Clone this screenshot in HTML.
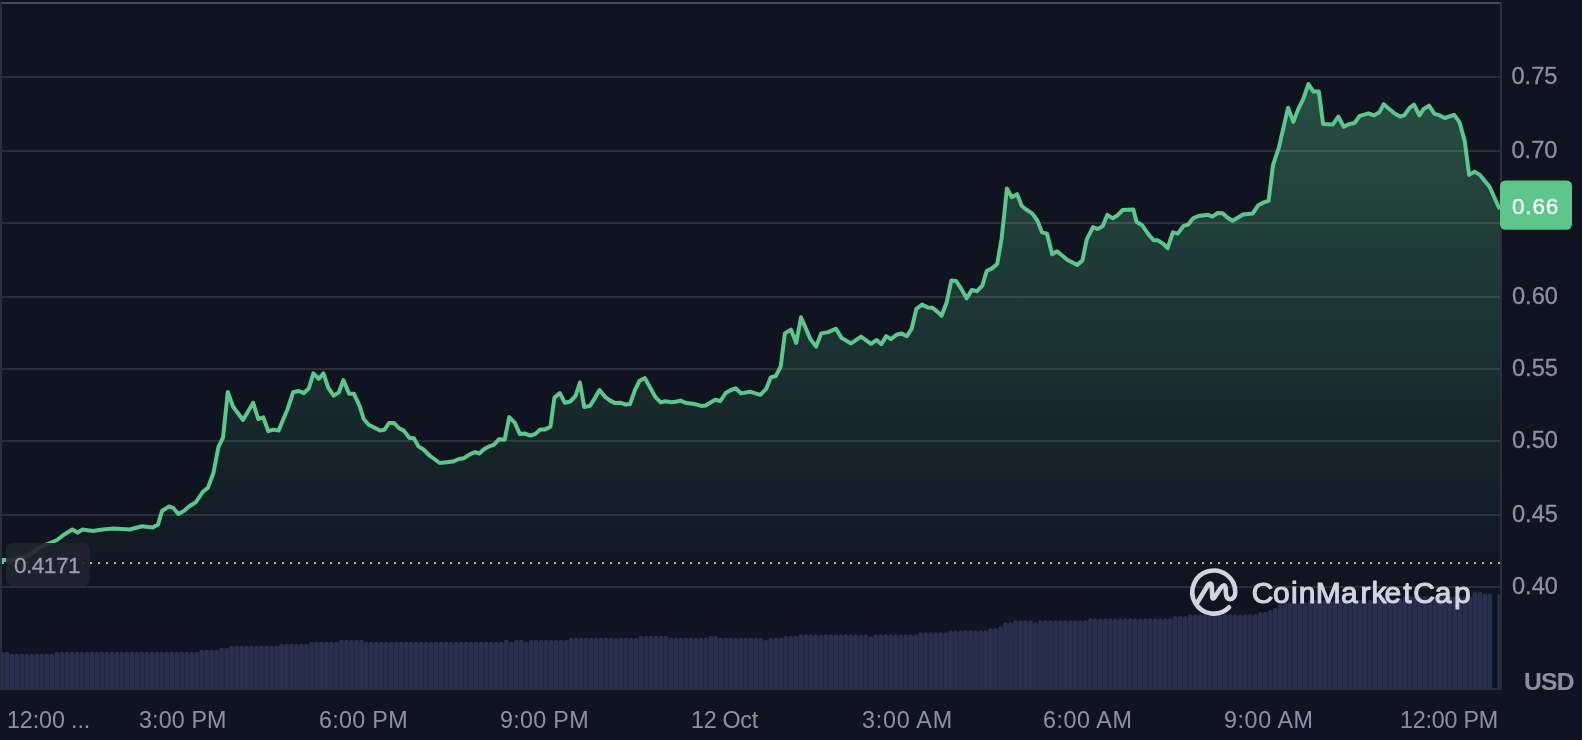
<!DOCTYPE html>
<html><head><meta charset="utf-8"><style>
html,body{margin:0;padding:0;background:#0f1420;width:1582px;height:740px;overflow:hidden}
svg{display:block;will-change:transform}
text{font-family:"Liberation Sans",sans-serif}
</style></head><body>
<svg width="1582" height="740" viewBox="0 0 1582 740">
<defs>
<linearGradient id="fg" gradientUnits="userSpaceOnUse" x1="0" y1="84" x2="0" y2="591">
<stop offset="0" stop-color="#5dc68a" stop-opacity="0.33"/>
<stop offset="1" stop-color="#5dc68a" stop-opacity="0"/>
</linearGradient>
</defs>
<rect width="1582" height="740" fill="#0f1420"/>
<path d="M0 688V654.1a2.1 2.1 0 0 1 4.26 0V688ZM4.56 688V654.1a2.1 2.1 0 0 1 4.69 0V688ZM9.55 688V656.1a2.1 2.1 0 0 1 4.69 0V688ZM14.54 688V656.1a2.1 2.1 0 0 1 4.69 0V688ZM19.54 688V656.1a2.1 2.1 0 0 1 4.69 0V688ZM24.53 688V656.1a2.1 2.1 0 0 1 4.69 0V688ZM29.52 688V656.1a2.1 2.1 0 0 1 4.69 0V688ZM34.52 688V656.1a2.1 2.1 0 0 1 4.69 0V688ZM39.51 688V656.1a2.1 2.1 0 0 1 4.69 0V688ZM44.5 688V656.1a2.1 2.1 0 0 1 4.69 0V688ZM49.49 688V656.1a2.1 2.1 0 0 1 4.69 0V688ZM54.49 688V654.1a2.1 2.1 0 0 1 4.69 0V688ZM59.48 688V654.1a2.1 2.1 0 0 1 4.69 0V688ZM64.47 688V654.1a2.1 2.1 0 0 1 4.69 0V688ZM69.47 688V654.1a2.1 2.1 0 0 1 4.69 0V688ZM74.46 688V654.1a2.1 2.1 0 0 1 4.69 0V688ZM79.45 688V654.1a2.1 2.1 0 0 1 4.69 0V688ZM84.45 688V654.1a2.1 2.1 0 0 1 4.69 0V688ZM89.44 688V654.1a2.1 2.1 0 0 1 4.69 0V688ZM94.43 688V654.1a2.1 2.1 0 0 1 4.69 0V688ZM99.42 688V654.1a2.1 2.1 0 0 1 4.69 0V688ZM104.42 688V654.1a2.1 2.1 0 0 1 4.69 0V688ZM109.41 688V654.1a2.1 2.1 0 0 1 4.69 0V688ZM114.4 688V654.1a2.1 2.1 0 0 1 4.69 0V688ZM119.4 688V654.1a2.1 2.1 0 0 1 4.69 0V688ZM124.39 688V654.1a2.1 2.1 0 0 1 4.69 0V688ZM129.38 688V654.1a2.1 2.1 0 0 1 4.69 0V688ZM134.38 688V654.1a2.1 2.1 0 0 1 4.69 0V688ZM139.37 688V654.1a2.1 2.1 0 0 1 4.69 0V688ZM144.36 688V654.1a2.1 2.1 0 0 1 4.69 0V688ZM149.35 688V654.1a2.1 2.1 0 0 1 4.69 0V688ZM154.35 688V654.1a2.1 2.1 0 0 1 4.69 0V688ZM159.34 688V654.1a2.1 2.1 0 0 1 4.69 0V688ZM164.33 688V654.1a2.1 2.1 0 0 1 4.69 0V688ZM169.33 688V654.1a2.1 2.1 0 0 1 4.69 0V688ZM174.32 688V654.1a2.1 2.1 0 0 1 4.69 0V688ZM179.31 688V654.1a2.1 2.1 0 0 1 4.69 0V688ZM184.31 688V654.1a2.1 2.1 0 0 1 4.69 0V688ZM189.3 688V654.1a2.1 2.1 0 0 1 4.69 0V688ZM194.29 688V654.1a2.1 2.1 0 0 1 4.69 0V688ZM199.28 688V652.1a2.1 2.1 0 0 1 4.69 0V688ZM204.28 688V652.1a2.1 2.1 0 0 1 4.69 0V688ZM209.27 688V652.1a2.1 2.1 0 0 1 4.69 0V688ZM214.26 688V652.1a2.1 2.1 0 0 1 4.69 0V688ZM219.26 688V650.1a2.1 2.1 0 0 1 4.69 0V688ZM224.25 688V650.1a2.1 2.1 0 0 1 4.69 0V688ZM229.24 688V648.1a2.1 2.1 0 0 1 4.69 0V688ZM234.24 688V648.1a2.1 2.1 0 0 1 4.69 0V688ZM239.23 688V648.1a2.1 2.1 0 0 1 4.69 0V688ZM244.22 688V648.1a2.1 2.1 0 0 1 4.69 0V688ZM249.21 688V648.1a2.1 2.1 0 0 1 4.69 0V688ZM254.21 688V648.1a2.1 2.1 0 0 1 4.69 0V688ZM259.2 688V648.1a2.1 2.1 0 0 1 4.69 0V688ZM264.19 688V648.1a2.1 2.1 0 0 1 4.69 0V688ZM269.19 688V648.1a2.1 2.1 0 0 1 4.69 0V688ZM274.18 688V648.1a2.1 2.1 0 0 1 4.69 0V688ZM279.17 688V646.1a2.1 2.1 0 0 1 4.69 0V688ZM284.16 688V646.1a2.1 2.1 0 0 1 4.69 0V688ZM289.16 688V646.1a2.1 2.1 0 0 1 4.69 0V688ZM294.15 688V646.1a2.1 2.1 0 0 1 4.69 0V688ZM299.14 688V646.1a2.1 2.1 0 0 1 4.69 0V688ZM304.14 688V646.1a2.1 2.1 0 0 1 4.69 0V688ZM309.13 688V644.1a2.1 2.1 0 0 1 4.69 0V688ZM314.12 688V644.1a2.1 2.1 0 0 1 4.69 0V688ZM319.12 688V644.1a2.1 2.1 0 0 1 4.69 0V688ZM324.11 688V644.1a2.1 2.1 0 0 1 4.69 0V688ZM329.1 688V644.1a2.1 2.1 0 0 1 4.69 0V688ZM334.09 688V644.1a2.1 2.1 0 0 1 4.69 0V688ZM339.09 688V642.1a2.1 2.1 0 0 1 4.69 0V688ZM344.08 688V642.1a2.1 2.1 0 0 1 4.69 0V688ZM349.07 688V642.1a2.1 2.1 0 0 1 4.69 0V688ZM354.07 688V642.1a2.1 2.1 0 0 1 4.69 0V688ZM359.06 688V642.1a2.1 2.1 0 0 1 4.69 0V688ZM364.05 688V644.1a2.1 2.1 0 0 1 4.69 0V688ZM369.05 688V644.1a2.1 2.1 0 0 1 4.69 0V688ZM374.04 688V644.1a2.1 2.1 0 0 1 4.69 0V688ZM379.03 688V644.1a2.1 2.1 0 0 1 4.69 0V688ZM384.02 688V644.1a2.1 2.1 0 0 1 4.69 0V688ZM389.02 688V644.1a2.1 2.1 0 0 1 4.69 0V688ZM394.01 688V644.1a2.1 2.1 0 0 1 4.69 0V688ZM399 688V644.1a2.1 2.1 0 0 1 4.69 0V688ZM404 688V644.1a2.1 2.1 0 0 1 4.69 0V688ZM408.99 688V644.1a2.1 2.1 0 0 1 4.69 0V688ZM413.98 688V644.1a2.1 2.1 0 0 1 4.69 0V688ZM418.98 688V644.1a2.1 2.1 0 0 1 4.69 0V688ZM423.97 688V644.1a2.1 2.1 0 0 1 4.69 0V688ZM428.96 688V644.1a2.1 2.1 0 0 1 4.69 0V688ZM433.95 688V644.1a2.1 2.1 0 0 1 4.69 0V688ZM438.95 688V644.1a2.1 2.1 0 0 1 4.69 0V688ZM443.94 688V644.1a2.1 2.1 0 0 1 4.69 0V688ZM448.93 688V644.1a2.1 2.1 0 0 1 4.69 0V688ZM453.93 688V644.1a2.1 2.1 0 0 1 4.69 0V688ZM458.92 688V644.1a2.1 2.1 0 0 1 4.69 0V688ZM463.91 688V644.1a2.1 2.1 0 0 1 4.69 0V688ZM468.91 688V644.1a2.1 2.1 0 0 1 4.69 0V688ZM473.9 688V644.1a2.1 2.1 0 0 1 4.69 0V688ZM478.89 688V644.1a2.1 2.1 0 0 1 4.69 0V688ZM483.88 688V644.1a2.1 2.1 0 0 1 4.69 0V688ZM488.88 688V644.1a2.1 2.1 0 0 1 4.69 0V688ZM493.87 688V644.1a2.1 2.1 0 0 1 4.69 0V688ZM498.86 688V644.1a2.1 2.1 0 0 1 4.69 0V688ZM503.86 688V642.1a2.1 2.1 0 0 1 4.69 0V688ZM508.85 688V644.1a2.1 2.1 0 0 1 4.69 0V688ZM513.84 688V642.1a2.1 2.1 0 0 1 4.69 0V688ZM518.84 688V642.1a2.1 2.1 0 0 1 4.69 0V688ZM523.83 688V644.1a2.1 2.1 0 0 1 4.69 0V688ZM528.82 688V642.1a2.1 2.1 0 0 1 4.69 0V688ZM533.82 688V642.1a2.1 2.1 0 0 1 4.69 0V688ZM538.81 688V642.1a2.1 2.1 0 0 1 4.69 0V688ZM543.8 688V642.1a2.1 2.1 0 0 1 4.69 0V688ZM548.79 688V642.1a2.1 2.1 0 0 1 4.69 0V688ZM553.79 688V642.1a2.1 2.1 0 0 1 4.69 0V688ZM558.78 688V642.1a2.1 2.1 0 0 1 4.69 0V688ZM563.77 688V642.1a2.1 2.1 0 0 1 4.69 0V688ZM568.77 688V640.1a2.1 2.1 0 0 1 4.69 0V688ZM573.76 688V640.1a2.1 2.1 0 0 1 4.69 0V688ZM578.75 688V640.1a2.1 2.1 0 0 1 4.69 0V688ZM583.75 688V640.1a2.1 2.1 0 0 1 4.69 0V688ZM588.74 688V640.1a2.1 2.1 0 0 1 4.69 0V688ZM593.73 688V640.1a2.1 2.1 0 0 1 4.69 0V688ZM598.72 688V640.1a2.1 2.1 0 0 1 4.69 0V688ZM603.72 688V640.1a2.1 2.1 0 0 1 4.69 0V688ZM608.71 688V640.1a2.1 2.1 0 0 1 4.69 0V688ZM613.7 688V640.1a2.1 2.1 0 0 1 4.69 0V688ZM618.7 688V640.1a2.1 2.1 0 0 1 4.69 0V688ZM623.69 688V640.1a2.1 2.1 0 0 1 4.69 0V688ZM628.68 688V640.1a2.1 2.1 0 0 1 4.69 0V688ZM633.67 688V640.1a2.1 2.1 0 0 1 4.69 0V688ZM638.67 688V638.1a2.1 2.1 0 0 1 4.69 0V688ZM643.66 688V638.1a2.1 2.1 0 0 1 4.69 0V688ZM648.65 688V638.1a2.1 2.1 0 0 1 4.69 0V688ZM653.65 688V638.1a2.1 2.1 0 0 1 4.69 0V688ZM658.64 688V638.1a2.1 2.1 0 0 1 4.69 0V688ZM663.63 688V638.1a2.1 2.1 0 0 1 4.69 0V688ZM668.63 688V640.1a2.1 2.1 0 0 1 4.69 0V688ZM673.62 688V640.1a2.1 2.1 0 0 1 4.69 0V688ZM678.61 688V640.1a2.1 2.1 0 0 1 4.69 0V688ZM683.61 688V640.1a2.1 2.1 0 0 1 4.69 0V688ZM688.6 688V640.1a2.1 2.1 0 0 1 4.69 0V688ZM693.59 688V640.1a2.1 2.1 0 0 1 4.69 0V688ZM698.58 688V640.1a2.1 2.1 0 0 1 4.69 0V688ZM703.58 688V640.1a2.1 2.1 0 0 1 4.69 0V688ZM708.57 688V638.1a2.1 2.1 0 0 1 4.69 0V688ZM713.56 688V638.1a2.1 2.1 0 0 1 4.69 0V688ZM718.56 688V640.1a2.1 2.1 0 0 1 4.69 0V688ZM723.55 688V640.1a2.1 2.1 0 0 1 4.69 0V688ZM728.54 688V640.1a2.1 2.1 0 0 1 4.69 0V688ZM733.53 688V640.1a2.1 2.1 0 0 1 4.69 0V688ZM738.53 688V640.1a2.1 2.1 0 0 1 4.69 0V688ZM743.52 688V640.1a2.1 2.1 0 0 1 4.69 0V688ZM748.51 688V640.1a2.1 2.1 0 0 1 4.69 0V688ZM753.51 688V640.1a2.1 2.1 0 0 1 4.69 0V688ZM758.5 688V640.1a2.1 2.1 0 0 1 4.69 0V688ZM763.49 688V642.1a2.1 2.1 0 0 1 4.69 0V688ZM768.49 688V640.1a2.1 2.1 0 0 1 4.69 0V688ZM773.48 688V640.1a2.1 2.1 0 0 1 4.69 0V688ZM778.47 688V640.1a2.1 2.1 0 0 1 4.69 0V688ZM783.47 688V638.1a2.1 2.1 0 0 1 4.69 0V688ZM788.46 688V638.1a2.1 2.1 0 0 1 4.69 0V688ZM793.45 688V638.1a2.1 2.1 0 0 1 4.69 0V688ZM798.44 688V636.6a2.1 2.1 0 0 1 4.69 0V688ZM803.44 688V636.6a2.1 2.1 0 0 1 4.69 0V688ZM808.43 688V636.6a2.1 2.1 0 0 1 4.69 0V688ZM813.42 688V636.6a2.1 2.1 0 0 1 4.69 0V688ZM818.42 688V636.6a2.1 2.1 0 0 1 4.69 0V688ZM823.41 688V636.6a2.1 2.1 0 0 1 4.69 0V688ZM828.4 688V636.6a2.1 2.1 0 0 1 4.69 0V688ZM833.39 688V636.6a2.1 2.1 0 0 1 4.69 0V688ZM838.39 688V636.6a2.1 2.1 0 0 1 4.69 0V688ZM843.38 688V636.6a2.1 2.1 0 0 1 4.69 0V688ZM848.37 688V636.6a2.1 2.1 0 0 1 4.69 0V688ZM853.37 688V636.6a2.1 2.1 0 0 1 4.69 0V688ZM858.36 688V636.6a2.1 2.1 0 0 1 4.69 0V688ZM863.35 688V636.6a2.1 2.1 0 0 1 4.69 0V688ZM868.35 688V638.6a2.1 2.1 0 0 1 4.69 0V688ZM873.34 688V636.6a2.1 2.1 0 0 1 4.69 0V688ZM878.33 688V636.6a2.1 2.1 0 0 1 4.69 0V688ZM883.33 688V636.6a2.1 2.1 0 0 1 4.69 0V688ZM888.32 688V636.6a2.1 2.1 0 0 1 4.69 0V688ZM893.31 688V636.6a2.1 2.1 0 0 1 4.69 0V688ZM898.3 688V636.6a2.1 2.1 0 0 1 4.69 0V688ZM903.3 688V636.6a2.1 2.1 0 0 1 4.69 0V688ZM908.29 688V636.6a2.1 2.1 0 0 1 4.69 0V688ZM913.28 688V636.6a2.1 2.1 0 0 1 4.69 0V688ZM918.28 688V634.5a2.1 2.1 0 0 1 4.69 0V688ZM923.27 688V634.5a2.1 2.1 0 0 1 4.69 0V688ZM928.26 688V634.5a2.1 2.1 0 0 1 4.69 0V688ZM933.25 688V634.5a2.1 2.1 0 0 1 4.69 0V688ZM938.25 688V634.5a2.1 2.1 0 0 1 4.69 0V688ZM943.24 688V634.5a2.1 2.1 0 0 1 4.69 0V688ZM948.23 688V632.6a2.1 2.1 0 0 1 4.69 0V688ZM953.23 688V632.6a2.1 2.1 0 0 1 4.69 0V688ZM958.22 688V632.6a2.1 2.1 0 0 1 4.69 0V688ZM963.21 688V632.6a2.1 2.1 0 0 1 4.69 0V688ZM968.21 688V632.6a2.1 2.1 0 0 1 4.69 0V688ZM973.2 688V632.6a2.1 2.1 0 0 1 4.69 0V688ZM978.19 688V632.6a2.1 2.1 0 0 1 4.69 0V688ZM983.19 688V632.6a2.1 2.1 0 0 1 4.69 0V688ZM988.18 688V630.6a2.1 2.1 0 0 1 4.69 0V688ZM993.17 688V630.6a2.1 2.1 0 0 1 4.69 0V688ZM998.16 688V628.6a2.1 2.1 0 0 1 4.69 0V688ZM1003.16 688V624.7a2.1 2.1 0 0 1 4.69 0V688ZM1008.15 688V624.7a2.1 2.1 0 0 1 4.69 0V688ZM1013.14 688V622.6a2.1 2.1 0 0 1 4.69 0V688ZM1018.14 688V622.6a2.1 2.1 0 0 1 4.69 0V688ZM1023.13 688V622.6a2.1 2.1 0 0 1 4.69 0V688ZM1028.12 688V622.6a2.1 2.1 0 0 1 4.69 0V688ZM1033.12 688V624.7a2.1 2.1 0 0 1 4.69 0V688ZM1038.11 688V622.6a2.1 2.1 0 0 1 4.69 0V688ZM1043.1 688V622.6a2.1 2.1 0 0 1 4.69 0V688ZM1048.09 688V622.6a2.1 2.1 0 0 1 4.69 0V688ZM1053.09 688V622.6a2.1 2.1 0 0 1 4.69 0V688ZM1058.08 688V622.6a2.1 2.1 0 0 1 4.69 0V688ZM1063.07 688V622.6a2.1 2.1 0 0 1 4.69 0V688ZM1068.07 688V622.6a2.1 2.1 0 0 1 4.69 0V688ZM1073.06 688V622.6a2.1 2.1 0 0 1 4.69 0V688ZM1078.05 688V622.6a2.1 2.1 0 0 1 4.69 0V688ZM1083.05 688V622.6a2.1 2.1 0 0 1 4.69 0V688ZM1088.04 688V620.6a2.1 2.1 0 0 1 4.69 0V688ZM1093.03 688V620.6a2.1 2.1 0 0 1 4.69 0V688ZM1098.02 688V620.6a2.1 2.1 0 0 1 4.69 0V688ZM1103.02 688V620.6a2.1 2.1 0 0 1 4.69 0V688ZM1108.01 688V620.6a2.1 2.1 0 0 1 4.69 0V688ZM1113 688V620.6a2.1 2.1 0 0 1 4.69 0V688ZM1118 688V620.6a2.1 2.1 0 0 1 4.69 0V688ZM1122.99 688V620.6a2.1 2.1 0 0 1 4.69 0V688ZM1127.98 688V620.6a2.1 2.1 0 0 1 4.69 0V688ZM1132.98 688V620.6a2.1 2.1 0 0 1 4.69 0V688ZM1137.97 688V620.6a2.1 2.1 0 0 1 4.69 0V688ZM1142.96 688V620.6a2.1 2.1 0 0 1 4.69 0V688ZM1147.95 688V620.6a2.1 2.1 0 0 1 4.69 0V688ZM1152.95 688V620.6a2.1 2.1 0 0 1 4.69 0V688ZM1157.94 688V620.6a2.1 2.1 0 0 1 4.69 0V688ZM1162.93 688V620.6a2.1 2.1 0 0 1 4.69 0V688ZM1167.93 688V620.6a2.1 2.1 0 0 1 4.69 0V688ZM1172.92 688V618.4a2.1 2.1 0 0 1 4.69 0V688ZM1177.91 688V618.4a2.1 2.1 0 0 1 4.69 0V688ZM1182.91 688V618.4a2.1 2.1 0 0 1 4.69 0V688ZM1187.9 688V616.6a2.1 2.1 0 0 1 4.69 0V688ZM1192.89 688V616.6a2.1 2.1 0 0 1 4.69 0V688ZM1197.88 688V616.6a2.1 2.1 0 0 1 4.69 0V688ZM1202.88 688V616.6a2.1 2.1 0 0 1 4.69 0V688ZM1207.87 688V616.6a2.1 2.1 0 0 1 4.69 0V688ZM1212.86 688V616.6a2.1 2.1 0 0 1 4.69 0V688ZM1217.86 688V616.6a2.1 2.1 0 0 1 4.69 0V688ZM1222.85 688V616.6a2.1 2.1 0 0 1 4.69 0V688ZM1227.84 688V616.6a2.1 2.1 0 0 1 4.69 0V688ZM1232.84 688V616.6a2.1 2.1 0 0 1 4.69 0V688ZM1237.83 688V616.6a2.1 2.1 0 0 1 4.69 0V688ZM1242.82 688V616.6a2.1 2.1 0 0 1 4.69 0V688ZM1247.81 688V616.6a2.1 2.1 0 0 1 4.69 0V688ZM1252.81 688V616.6a2.1 2.1 0 0 1 4.69 0V688ZM1257.8 688V614.3a2.1 2.1 0 0 1 4.69 0V688ZM1262.79 688V614.3a2.1 2.1 0 0 1 4.69 0V688ZM1267.79 688V612.4a2.1 2.1 0 0 1 4.69 0V688ZM1272.78 688V610.3a2.1 2.1 0 0 1 4.69 0V688ZM1277.77 688V606.4a2.1 2.1 0 0 1 4.69 0V688ZM1282.77 688V604.5a2.1 2.1 0 0 1 4.69 0V688ZM1287.76 688V604.5a2.1 2.1 0 0 1 4.69 0V688ZM1292.75 688V604.5a2.1 2.1 0 0 1 4.69 0V688ZM1297.74 688V604.5a2.1 2.1 0 0 1 4.69 0V688ZM1302.74 688V604.5a2.1 2.1 0 0 1 4.69 0V688ZM1307.73 688V602.4a2.1 2.1 0 0 1 4.69 0V688ZM1312.72 688V602.4a2.1 2.1 0 0 1 4.69 0V688ZM1317.72 688V602.4a2.1 2.1 0 0 1 4.69 0V688ZM1322.71 688V602.4a2.1 2.1 0 0 1 4.69 0V688ZM1327.7 688V602.4a2.1 2.1 0 0 1 4.69 0V688ZM1332.7 688V602.4a2.1 2.1 0 0 1 4.69 0V688ZM1337.69 688V602.4a2.1 2.1 0 0 1 4.69 0V688ZM1342.68 688V602.4a2.1 2.1 0 0 1 4.69 0V688ZM1347.67 688V602.4a2.1 2.1 0 0 1 4.69 0V688ZM1352.67 688V602.4a2.1 2.1 0 0 1 4.69 0V688ZM1357.66 688V602.4a2.1 2.1 0 0 1 4.69 0V688ZM1362.65 688V602.4a2.1 2.1 0 0 1 4.69 0V688ZM1367.65 688V602.4a2.1 2.1 0 0 1 4.69 0V688ZM1372.64 688V600.5a2.1 2.1 0 0 1 4.69 0V688ZM1377.63 688V600.5a2.1 2.1 0 0 1 4.69 0V688ZM1382.63 688V600.5a2.1 2.1 0 0 1 4.69 0V688ZM1387.62 688V600.5a2.1 2.1 0 0 1 4.69 0V688ZM1392.61 688V600.5a2.1 2.1 0 0 1 4.69 0V688ZM1397.6 688V600.5a2.1 2.1 0 0 1 4.69 0V688ZM1402.6 688V598.5a2.1 2.1 0 0 1 4.69 0V688ZM1407.59 688V598.5a2.1 2.1 0 0 1 4.69 0V688ZM1412.58 688V598.5a2.1 2.1 0 0 1 4.69 0V688ZM1417.58 688V598.5a2.1 2.1 0 0 1 4.69 0V688ZM1422.57 688V598.5a2.1 2.1 0 0 1 4.69 0V688ZM1427.56 688V598.5a2.1 2.1 0 0 1 4.69 0V688ZM1432.56 688V598.5a2.1 2.1 0 0 1 4.69 0V688ZM1437.55 688V598.5a2.1 2.1 0 0 1 4.69 0V688ZM1442.54 688V598.5a2.1 2.1 0 0 1 4.69 0V688ZM1447.53 688V598.5a2.1 2.1 0 0 1 4.69 0V688ZM1452.53 688V598.5a2.1 2.1 0 0 1 4.69 0V688ZM1457.52 688V598.5a2.1 2.1 0 0 1 4.69 0V688ZM1462.51 688V598.5a2.1 2.1 0 0 1 4.69 0V688ZM1467.51 688V598.5a2.1 2.1 0 0 1 4.69 0V688ZM1472.5 688V594.1a2.1 2.1 0 0 1 4.69 0V688ZM1477.49 688V594.1a2.1 2.1 0 0 1 4.69 0V688ZM1482.49 688V596.1a2.1 2.1 0 0 1 4.69 0V688ZM1487.48 688V596.1a2.1 2.1 0 0 1 4.69 0V688ZM1497.46 688V595.27a1.27 1.27 0 0 1 2.54 0V688Z" fill="#2a3353" fill-opacity="0.93"/>
<path d="M2 560 L12 560 L27 556.5 L40.5 547 L57 540 L63.5 535 L72.4 529.5 L77.8 532.7 L82.4 529.5 L93 531 L102.7 529.5 L113.5 528.6 L129.7 529.5 L141.9 526.2 L152.7 527.6 L158 524.6 L162 511 L169 506.5 L173 507.8 L178.4 514 L183.8 511 L189 506.5 L196 502 L202.7 492 L208 487.6 L213.5 472.7 L218.4 447 L223 437.6 L227.8 392 L233 406.5 L243 420 L253.2 402.8 L258.2 419 L263.3 417.4 L268.4 431.2 L273.4 429.6 L278.5 430.6 L287.6 409 L293.1 392.3 L298.8 391 L303.9 393.1 L308.9 388.2 L313.4 373.4 L318.7 378.9 L323.5 373.4 L328.2 387.6 L333.7 395.7 L338.9 392.3 L343.4 380.1 L349.1 393.7 L353.9 393.7 L359.6 405.9 L363.7 419 L368.7 424.7 L379.9 430.6 L384.3 429.8 L389 423.1 L394.1 423.1 L399.1 428.2 L403.8 430.6 L409.3 437.7 L413.9 438.3 L418.4 446.4 L423.5 449.5 L429.5 455.5 L439.7 463 L452.9 461.6 L458.9 459 L464 458.2 L470.1 454.1 L475.2 452.1 L479.2 453.5 L484.3 449.1 L489.4 446.3 L493.8 444.9 L499.1 439.2 L504.7 439.6 L509.2 417.1 L514.9 422.9 L519.8 434 L524.5 433.5 L530.3 435.6 L535.1 434 L540.3 429.4 L544.7 429.6 L550.4 426.8 L554.4 397.8 L559.7 393 L564.9 402.7 L570.2 401.5 L575.5 396 L579.9 382.5 L584.3 407.1 L589.9 405.9 L594.8 398.3 L599.5 390.1 L604.8 396.6 L609.7 400.4 L615 403.1 L620.3 402.7 L625.5 404.5 L630 404.1 L635.2 389.5 L639.6 380.7 L644.9 378.1 L649.3 386 L655.4 397.1 L660.7 402.4 L665.1 401.3 L671.2 402.2 L675.6 401.8 L680.4 400.6 L686.2 403.1 L695 404.1 L701.1 405.9 L705.5 405.5 L715.2 399.7 L720.4 401 L725.7 393 L731 390 L735.7 388.3 L741 393.4 L749.9 391.7 L760.3 394.9 L766 389.2 L770.7 377.5 L775.8 376 L780.7 366.5 L784.9 333.4 L790.9 329.6 L796.2 342.9 L801 317.3 L810.4 339.1 L816.1 346.6 L821.2 333.4 L828.4 332.1 L836 328.7 L841.7 338.1 L851.1 343.4 L861 336.6 L871 343.8 L876.7 340 L881.4 344.2 L886.1 336.2 L890.9 339.1 L896.5 334.7 L901.3 333.4 L906.9 336.2 L911.7 328.7 L916.4 308.8 L922.1 304.6 L927.8 307.5 L932.5 307.8 L937.2 311.6 L941.6 315.8 L946.7 302.2 L951.4 280.4 L956.2 281 L961.3 288.9 L966.6 298.4 L971.9 289.9 L977 291.2 L982.3 285.6 L986.7 271 L992 268.4 L997.2 264 L1001.6 238.5 L1004.3 213.9 L1006.9 188.4 L1011.8 197.2 L1017.1 194.2 L1021.8 206 L1026.2 209.5 L1032.4 213.6 L1037.6 221 L1042 232.4 L1047 233.6 L1052.2 254.3 L1057 251.2 L1067.5 260 L1077.2 264.9 L1082.4 260.5 L1086.8 239.4 L1093 227.1 L1097.4 228.9 L1102.6 226.2 L1107.4 214.8 L1112.7 218.3 L1117.6 215.3 L1122.5 210.1 L1133.4 209.5 L1136.5 221.8 L1142.2 225.3 L1148.3 234.1 L1153.6 240.3 L1158 240.3 L1163.3 243.8 L1167.6 248.2 L1172.9 232.4 L1177.7 233.6 L1183.5 225.9 L1188.2 224.5 L1193.1 218.3 L1198.4 216 L1208 214.8 L1212.4 216.6 L1217.7 213 L1222.6 213.2 L1228 218.1 L1232.7 220.7 L1243.1 214.5 L1252.8 213.4 L1258.3 205.2 L1263.7 202.4 L1268.6 200.8 L1273 165.2 L1278.8 147.9 L1288.1 107.8 L1293.3 121.9 L1298.3 108.9 L1303.2 99.2 L1308.4 84.1 L1313.4 91.6 L1318.8 91.6 L1323.1 124.1 L1332.9 124.5 L1338.3 116.5 L1343.7 126.7 L1349.1 124.1 L1354.5 123 L1359.9 115.8 L1368.5 113.3 L1374 115.4 L1379.4 112.2 L1383.7 104.2 L1393.4 112.6 L1399.9 116.5 L1404.2 115.4 L1409.6 107.8 L1414 104.6 L1419.4 115.4 L1423.7 108.9 L1429.1 105.7 L1434.5 113.9 L1439.9 115.4 L1444.7 118 L1454 114.8 L1459.4 121.9 L1464.8 141.4 L1469.1 174.9 L1474.5 171.6 L1479.9 174.9 L1484.2 180.3 L1489.6 186.8 L1498.3 206.2 L1500 209 L1500 688 L2 688 Z" fill="url(#fg)"/>
<rect x="2" y="76" width="1498" height="2" fill="rgba(255,255,255,0.11)"/><rect x="2" y="150" width="1498" height="2" fill="rgba(255,255,255,0.11)"/><rect x="2" y="222" width="1498" height="2" fill="rgba(255,255,255,0.11)"/><rect x="2" y="296" width="1498" height="2" fill="rgba(255,255,255,0.11)"/><rect x="2" y="368" width="1498" height="2" fill="rgba(255,255,255,0.11)"/><rect x="2" y="440" width="1498" height="2" fill="rgba(255,255,255,0.11)"/><rect x="2" y="514" width="1498" height="2" fill="rgba(255,255,255,0.11)"/><rect x="2" y="586" width="1498" height="2" fill="rgba(255,255,255,0.11)"/>
<rect x="2" y="2" width="1498" height="2" fill="#474b55"/>
<rect x="0" y="2" width="2" height="688" fill="#2a2e39"/>
<rect x="1500" y="2" width="2" height="688" fill="#2a2e39"/>
<rect x="0" y="688" width="1502" height="2" fill="#272b36"/>
<rect x="2" y="562" width="2" height="2" fill="#b3b1ad"/><rect x="10" y="562" width="2" height="2" fill="#b3b1ad"/><rect x="18" y="562" width="2" height="2" fill="#b3b1ad"/><rect x="26" y="562" width="2" height="2" fill="#b3b1ad"/><rect x="34" y="562" width="2" height="2" fill="#b3b1ad"/><rect x="42" y="562" width="2" height="2" fill="#b3b1ad"/><rect x="50" y="562" width="2" height="2" fill="#b3b1ad"/><rect x="58" y="562" width="2" height="2" fill="#b3b1ad"/><rect x="66" y="562" width="2" height="2" fill="#b3b1ad"/><rect x="74" y="562" width="2" height="2" fill="#b3b1ad"/><rect x="82" y="562" width="2" height="2" fill="#b3b1ad"/><rect x="90" y="562" width="2" height="2" fill="#b3b1ad"/><rect x="98" y="562" width="2" height="2" fill="#b3b1ad"/><rect x="106" y="562" width="2" height="2" fill="#b3b1ad"/><rect x="114" y="562" width="2" height="2" fill="#b3b1ad"/><rect x="122" y="562" width="2" height="2" fill="#b3b1ad"/><rect x="130" y="562" width="2" height="2" fill="#b3b1ad"/><rect x="138" y="562" width="2" height="2" fill="#b3b1ad"/><rect x="146" y="562" width="2" height="2" fill="#b3b1ad"/><rect x="154" y="562" width="2" height="2" fill="#b3b1ad"/><rect x="162" y="562" width="2" height="2" fill="#b3b1ad"/><rect x="170" y="562" width="2" height="2" fill="#b3b1ad"/><rect x="178" y="562" width="2" height="2" fill="#b3b1ad"/><rect x="186" y="562" width="2" height="2" fill="#b3b1ad"/><rect x="194" y="562" width="2" height="2" fill="#b3b1ad"/><rect x="202" y="562" width="2" height="2" fill="#b3b1ad"/><rect x="210" y="562" width="2" height="2" fill="#b3b1ad"/><rect x="218" y="562" width="2" height="2" fill="#b3b1ad"/><rect x="226" y="562" width="2" height="2" fill="#b3b1ad"/><rect x="234" y="562" width="2" height="2" fill="#b3b1ad"/><rect x="242" y="562" width="2" height="2" fill="#b3b1ad"/><rect x="250" y="562" width="2" height="2" fill="#b3b1ad"/><rect x="258" y="562" width="2" height="2" fill="#b3b1ad"/><rect x="266" y="562" width="2" height="2" fill="#b3b1ad"/><rect x="274" y="562" width="2" height="2" fill="#b3b1ad"/><rect x="282" y="562" width="2" height="2" fill="#b3b1ad"/><rect x="290" y="562" width="2" height="2" fill="#b3b1ad"/><rect x="298" y="562" width="2" height="2" fill="#b3b1ad"/><rect x="306" y="562" width="2" height="2" fill="#b3b1ad"/><rect x="314" y="562" width="2" height="2" fill="#b3b1ad"/><rect x="322" y="562" width="2" height="2" fill="#b3b1ad"/><rect x="330" y="562" width="2" height="2" fill="#b3b1ad"/><rect x="338" y="562" width="2" height="2" fill="#b3b1ad"/><rect x="346" y="562" width="2" height="2" fill="#b3b1ad"/><rect x="354" y="562" width="2" height="2" fill="#b3b1ad"/><rect x="362" y="562" width="2" height="2" fill="#b3b1ad"/><rect x="370" y="562" width="2" height="2" fill="#b3b1ad"/><rect x="378" y="562" width="2" height="2" fill="#b3b1ad"/><rect x="386" y="562" width="2" height="2" fill="#b3b1ad"/><rect x="394" y="562" width="2" height="2" fill="#b3b1ad"/><rect x="402" y="562" width="2" height="2" fill="#b3b1ad"/><rect x="410" y="562" width="2" height="2" fill="#b3b1ad"/><rect x="418" y="562" width="2" height="2" fill="#b3b1ad"/><rect x="426" y="562" width="2" height="2" fill="#b3b1ad"/><rect x="434" y="562" width="2" height="2" fill="#b3b1ad"/><rect x="442" y="562" width="2" height="2" fill="#b3b1ad"/><rect x="450" y="562" width="2" height="2" fill="#b3b1ad"/><rect x="458" y="562" width="2" height="2" fill="#b3b1ad"/><rect x="466" y="562" width="2" height="2" fill="#b3b1ad"/><rect x="474" y="562" width="2" height="2" fill="#b3b1ad"/><rect x="482" y="562" width="2" height="2" fill="#b3b1ad"/><rect x="490" y="562" width="2" height="2" fill="#b3b1ad"/><rect x="498" y="562" width="2" height="2" fill="#b3b1ad"/><rect x="506" y="562" width="2" height="2" fill="#b3b1ad"/><rect x="514" y="562" width="2" height="2" fill="#b3b1ad"/><rect x="522" y="562" width="2" height="2" fill="#b3b1ad"/><rect x="530" y="562" width="2" height="2" fill="#b3b1ad"/><rect x="538" y="562" width="2" height="2" fill="#b3b1ad"/><rect x="546" y="562" width="2" height="2" fill="#b3b1ad"/><rect x="554" y="562" width="2" height="2" fill="#b3b1ad"/><rect x="562" y="562" width="2" height="2" fill="#b3b1ad"/><rect x="570" y="562" width="2" height="2" fill="#b3b1ad"/><rect x="578" y="562" width="2" height="2" fill="#b3b1ad"/><rect x="586" y="562" width="2" height="2" fill="#b3b1ad"/><rect x="594" y="562" width="2" height="2" fill="#b3b1ad"/><rect x="602" y="562" width="2" height="2" fill="#b3b1ad"/><rect x="610" y="562" width="2" height="2" fill="#b3b1ad"/><rect x="618" y="562" width="2" height="2" fill="#b3b1ad"/><rect x="626" y="562" width="2" height="2" fill="#b3b1ad"/><rect x="634" y="562" width="2" height="2" fill="#b3b1ad"/><rect x="642" y="562" width="2" height="2" fill="#b3b1ad"/><rect x="650" y="562" width="2" height="2" fill="#b3b1ad"/><rect x="658" y="562" width="2" height="2" fill="#b3b1ad"/><rect x="666" y="562" width="2" height="2" fill="#b3b1ad"/><rect x="674" y="562" width="2" height="2" fill="#b3b1ad"/><rect x="682" y="562" width="2" height="2" fill="#b3b1ad"/><rect x="690" y="562" width="2" height="2" fill="#b3b1ad"/><rect x="698" y="562" width="2" height="2" fill="#b3b1ad"/><rect x="706" y="562" width="2" height="2" fill="#b3b1ad"/><rect x="714" y="562" width="2" height="2" fill="#b3b1ad"/><rect x="722" y="562" width="2" height="2" fill="#b3b1ad"/><rect x="730" y="562" width="2" height="2" fill="#b3b1ad"/><rect x="738" y="562" width="2" height="2" fill="#b3b1ad"/><rect x="746" y="562" width="2" height="2" fill="#b3b1ad"/><rect x="754" y="562" width="2" height="2" fill="#b3b1ad"/><rect x="762" y="562" width="2" height="2" fill="#b3b1ad"/><rect x="770" y="562" width="2" height="2" fill="#b3b1ad"/><rect x="778" y="562" width="2" height="2" fill="#b3b1ad"/><rect x="786" y="562" width="2" height="2" fill="#b3b1ad"/><rect x="794" y="562" width="2" height="2" fill="#b3b1ad"/><rect x="802" y="562" width="2" height="2" fill="#b3b1ad"/><rect x="810" y="562" width="2" height="2" fill="#b3b1ad"/><rect x="818" y="562" width="2" height="2" fill="#b3b1ad"/><rect x="826" y="562" width="2" height="2" fill="#b3b1ad"/><rect x="834" y="562" width="2" height="2" fill="#b3b1ad"/><rect x="842" y="562" width="2" height="2" fill="#b3b1ad"/><rect x="850" y="562" width="2" height="2" fill="#b3b1ad"/><rect x="858" y="562" width="2" height="2" fill="#b3b1ad"/><rect x="866" y="562" width="2" height="2" fill="#b3b1ad"/><rect x="874" y="562" width="2" height="2" fill="#b3b1ad"/><rect x="882" y="562" width="2" height="2" fill="#b3b1ad"/><rect x="890" y="562" width="2" height="2" fill="#b3b1ad"/><rect x="898" y="562" width="2" height="2" fill="#b3b1ad"/><rect x="906" y="562" width="2" height="2" fill="#b3b1ad"/><rect x="914" y="562" width="2" height="2" fill="#b3b1ad"/><rect x="922" y="562" width="2" height="2" fill="#b3b1ad"/><rect x="930" y="562" width="2" height="2" fill="#b3b1ad"/><rect x="938" y="562" width="2" height="2" fill="#b3b1ad"/><rect x="946" y="562" width="2" height="2" fill="#b3b1ad"/><rect x="954" y="562" width="2" height="2" fill="#b3b1ad"/><rect x="962" y="562" width="2" height="2" fill="#b3b1ad"/><rect x="970" y="562" width="2" height="2" fill="#b3b1ad"/><rect x="978" y="562" width="2" height="2" fill="#b3b1ad"/><rect x="986" y="562" width="2" height="2" fill="#b3b1ad"/><rect x="994" y="562" width="2" height="2" fill="#b3b1ad"/><rect x="1002" y="562" width="2" height="2" fill="#b3b1ad"/><rect x="1010" y="562" width="2" height="2" fill="#b3b1ad"/><rect x="1018" y="562" width="2" height="2" fill="#b3b1ad"/><rect x="1026" y="562" width="2" height="2" fill="#b3b1ad"/><rect x="1034" y="562" width="2" height="2" fill="#b3b1ad"/><rect x="1042" y="562" width="2" height="2" fill="#b3b1ad"/><rect x="1050" y="562" width="2" height="2" fill="#b3b1ad"/><rect x="1058" y="562" width="2" height="2" fill="#b3b1ad"/><rect x="1066" y="562" width="2" height="2" fill="#b3b1ad"/><rect x="1074" y="562" width="2" height="2" fill="#b3b1ad"/><rect x="1082" y="562" width="2" height="2" fill="#b3b1ad"/><rect x="1090" y="562" width="2" height="2" fill="#b3b1ad"/><rect x="1098" y="562" width="2" height="2" fill="#b3b1ad"/><rect x="1106" y="562" width="2" height="2" fill="#b3b1ad"/><rect x="1114" y="562" width="2" height="2" fill="#b3b1ad"/><rect x="1122" y="562" width="2" height="2" fill="#b3b1ad"/><rect x="1130" y="562" width="2" height="2" fill="#b3b1ad"/><rect x="1138" y="562" width="2" height="2" fill="#b3b1ad"/><rect x="1146" y="562" width="2" height="2" fill="#b3b1ad"/><rect x="1154" y="562" width="2" height="2" fill="#b3b1ad"/><rect x="1162" y="562" width="2" height="2" fill="#b3b1ad"/><rect x="1170" y="562" width="2" height="2" fill="#b3b1ad"/><rect x="1178" y="562" width="2" height="2" fill="#b3b1ad"/><rect x="1186" y="562" width="2" height="2" fill="#b3b1ad"/><rect x="1194" y="562" width="2" height="2" fill="#b3b1ad"/><rect x="1202" y="562" width="2" height="2" fill="#b3b1ad"/><rect x="1210" y="562" width="2" height="2" fill="#b3b1ad"/><rect x="1218" y="562" width="2" height="2" fill="#b3b1ad"/><rect x="1226" y="562" width="2" height="2" fill="#b3b1ad"/><rect x="1234" y="562" width="2" height="2" fill="#b3b1ad"/><rect x="1242" y="562" width="2" height="2" fill="#b3b1ad"/><rect x="1250" y="562" width="2" height="2" fill="#b3b1ad"/><rect x="1258" y="562" width="2" height="2" fill="#b3b1ad"/><rect x="1266" y="562" width="2" height="2" fill="#b3b1ad"/><rect x="1274" y="562" width="2" height="2" fill="#b3b1ad"/><rect x="1282" y="562" width="2" height="2" fill="#b3b1ad"/><rect x="1290" y="562" width="2" height="2" fill="#b3b1ad"/><rect x="1298" y="562" width="2" height="2" fill="#b3b1ad"/><rect x="1306" y="562" width="2" height="2" fill="#b3b1ad"/><rect x="1314" y="562" width="2" height="2" fill="#b3b1ad"/><rect x="1322" y="562" width="2" height="2" fill="#b3b1ad"/><rect x="1330" y="562" width="2" height="2" fill="#b3b1ad"/><rect x="1338" y="562" width="2" height="2" fill="#b3b1ad"/><rect x="1346" y="562" width="2" height="2" fill="#b3b1ad"/><rect x="1354" y="562" width="2" height="2" fill="#b3b1ad"/><rect x="1362" y="562" width="2" height="2" fill="#b3b1ad"/><rect x="1370" y="562" width="2" height="2" fill="#b3b1ad"/><rect x="1378" y="562" width="2" height="2" fill="#b3b1ad"/><rect x="1386" y="562" width="2" height="2" fill="#b3b1ad"/><rect x="1394" y="562" width="2" height="2" fill="#b3b1ad"/><rect x="1402" y="562" width="2" height="2" fill="#b3b1ad"/><rect x="1410" y="562" width="2" height="2" fill="#b3b1ad"/><rect x="1418" y="562" width="2" height="2" fill="#b3b1ad"/><rect x="1426" y="562" width="2" height="2" fill="#b3b1ad"/><rect x="1434" y="562" width="2" height="2" fill="#b3b1ad"/><rect x="1442" y="562" width="2" height="2" fill="#b3b1ad"/><rect x="1450" y="562" width="2" height="2" fill="#b3b1ad"/><rect x="1458" y="562" width="2" height="2" fill="#b3b1ad"/><rect x="1466" y="562" width="2" height="2" fill="#b3b1ad"/><rect x="1474" y="562" width="2" height="2" fill="#b3b1ad"/><rect x="1482" y="562" width="2" height="2" fill="#b3b1ad"/><rect x="1490" y="562" width="2" height="2" fill="#b3b1ad"/><rect x="1498" y="562" width="2" height="2" fill="#b3b1ad"/>
<path d="M2 560 L12 560 L27 556.5 L40.5 547 L57 540 L63.5 535 L72.4 529.5 L77.8 532.7 L82.4 529.5 L93 531 L102.7 529.5 L113.5 528.6 L129.7 529.5 L141.9 526.2 L152.7 527.6 L158 524.6 L162 511 L169 506.5 L173 507.8 L178.4 514 L183.8 511 L189 506.5 L196 502 L202.7 492 L208 487.6 L213.5 472.7 L218.4 447 L223 437.6 L227.8 392 L233 406.5 L243 420 L253.2 402.8 L258.2 419 L263.3 417.4 L268.4 431.2 L273.4 429.6 L278.5 430.6 L287.6 409 L293.1 392.3 L298.8 391 L303.9 393.1 L308.9 388.2 L313.4 373.4 L318.7 378.9 L323.5 373.4 L328.2 387.6 L333.7 395.7 L338.9 392.3 L343.4 380.1 L349.1 393.7 L353.9 393.7 L359.6 405.9 L363.7 419 L368.7 424.7 L379.9 430.6 L384.3 429.8 L389 423.1 L394.1 423.1 L399.1 428.2 L403.8 430.6 L409.3 437.7 L413.9 438.3 L418.4 446.4 L423.5 449.5 L429.5 455.5 L439.7 463 L452.9 461.6 L458.9 459 L464 458.2 L470.1 454.1 L475.2 452.1 L479.2 453.5 L484.3 449.1 L489.4 446.3 L493.8 444.9 L499.1 439.2 L504.7 439.6 L509.2 417.1 L514.9 422.9 L519.8 434 L524.5 433.5 L530.3 435.6 L535.1 434 L540.3 429.4 L544.7 429.6 L550.4 426.8 L554.4 397.8 L559.7 393 L564.9 402.7 L570.2 401.5 L575.5 396 L579.9 382.5 L584.3 407.1 L589.9 405.9 L594.8 398.3 L599.5 390.1 L604.8 396.6 L609.7 400.4 L615 403.1 L620.3 402.7 L625.5 404.5 L630 404.1 L635.2 389.5 L639.6 380.7 L644.9 378.1 L649.3 386 L655.4 397.1 L660.7 402.4 L665.1 401.3 L671.2 402.2 L675.6 401.8 L680.4 400.6 L686.2 403.1 L695 404.1 L701.1 405.9 L705.5 405.5 L715.2 399.7 L720.4 401 L725.7 393 L731 390 L735.7 388.3 L741 393.4 L749.9 391.7 L760.3 394.9 L766 389.2 L770.7 377.5 L775.8 376 L780.7 366.5 L784.9 333.4 L790.9 329.6 L796.2 342.9 L801 317.3 L810.4 339.1 L816.1 346.6 L821.2 333.4 L828.4 332.1 L836 328.7 L841.7 338.1 L851.1 343.4 L861 336.6 L871 343.8 L876.7 340 L881.4 344.2 L886.1 336.2 L890.9 339.1 L896.5 334.7 L901.3 333.4 L906.9 336.2 L911.7 328.7 L916.4 308.8 L922.1 304.6 L927.8 307.5 L932.5 307.8 L937.2 311.6 L941.6 315.8 L946.7 302.2 L951.4 280.4 L956.2 281 L961.3 288.9 L966.6 298.4 L971.9 289.9 L977 291.2 L982.3 285.6 L986.7 271 L992 268.4 L997.2 264 L1001.6 238.5 L1004.3 213.9 L1006.9 188.4 L1011.8 197.2 L1017.1 194.2 L1021.8 206 L1026.2 209.5 L1032.4 213.6 L1037.6 221 L1042 232.4 L1047 233.6 L1052.2 254.3 L1057 251.2 L1067.5 260 L1077.2 264.9 L1082.4 260.5 L1086.8 239.4 L1093 227.1 L1097.4 228.9 L1102.6 226.2 L1107.4 214.8 L1112.7 218.3 L1117.6 215.3 L1122.5 210.1 L1133.4 209.5 L1136.5 221.8 L1142.2 225.3 L1148.3 234.1 L1153.6 240.3 L1158 240.3 L1163.3 243.8 L1167.6 248.2 L1172.9 232.4 L1177.7 233.6 L1183.5 225.9 L1188.2 224.5 L1193.1 218.3 L1198.4 216 L1208 214.8 L1212.4 216.6 L1217.7 213 L1222.6 213.2 L1228 218.1 L1232.7 220.7 L1243.1 214.5 L1252.8 213.4 L1258.3 205.2 L1263.7 202.4 L1268.6 200.8 L1273 165.2 L1278.8 147.9 L1288.1 107.8 L1293.3 121.9 L1298.3 108.9 L1303.2 99.2 L1308.4 84.1 L1313.4 91.6 L1318.8 91.6 L1323.1 124.1 L1332.9 124.5 L1338.3 116.5 L1343.7 126.7 L1349.1 124.1 L1354.5 123 L1359.9 115.8 L1368.5 113.3 L1374 115.4 L1379.4 112.2 L1383.7 104.2 L1393.4 112.6 L1399.9 116.5 L1404.2 115.4 L1409.6 107.8 L1414 104.6 L1419.4 115.4 L1423.7 108.9 L1429.1 105.7 L1434.5 113.9 L1439.9 115.4 L1444.7 118 L1454 114.8 L1459.4 121.9 L1464.8 141.4 L1469.1 174.9 L1474.5 171.6 L1479.9 174.9 L1484.2 180.3 L1489.6 186.8 L1498.3 206.2 L1500 209" fill="none" stroke="#5dc68a" stroke-width="4" stroke-linejoin="round" stroke-linecap="butt"/>
<rect x="6" y="543" width="84" height="43" rx="6.5" fill="#21242e" fill-opacity="0.9"/>
<text x="14" y="573" font-size="22.6" fill="#9a9daf" stroke="#9a9daf" stroke-width="0.3" textLength="66.5" lengthAdjust="spacing">0.4171</text>
<text x="7" y="728" font-size="23.3" fill="#8a90a3" stroke="#8a90a3" stroke-width="0.05" textLength="83.3" lengthAdjust="spacing">12:00 ...</text><text x="139" y="728" font-size="23.3" fill="#8a90a3" stroke="#8a90a3" stroke-width="0.05" textLength="87.5" lengthAdjust="spacing">3:00 PM</text><text x="319" y="728" font-size="23.3" fill="#8a90a3" stroke="#8a90a3" stroke-width="0.05" textLength="88.6" lengthAdjust="spacing">6:00 PM</text><text x="500" y="728" font-size="23.3" fill="#8a90a3" stroke="#8a90a3" stroke-width="0.05" textLength="88.6" lengthAdjust="spacing">9:00 PM</text><text x="691" y="728" font-size="23.3" fill="#8a90a3" stroke="#8a90a3" stroke-width="0.05" textLength="67.2" lengthAdjust="spacing">12 Oct</text><text x="862" y="728" font-size="23.3" fill="#8a90a3" stroke="#8a90a3" stroke-width="0.05" textLength="90.1" lengthAdjust="spacing">3:00 AM</text><text x="1043" y="728" font-size="23.3" fill="#8a90a3" stroke="#8a90a3" stroke-width="0.05" textLength="88.8" lengthAdjust="spacing">6:00 AM</text><text x="1224" y="728" font-size="23.3" fill="#8a90a3" stroke="#8a90a3" stroke-width="0.05" textLength="89" lengthAdjust="spacing">9:00 AM</text><text x="1400" y="728" font-size="23.3" fill="#8a90a3" stroke="#8a90a3" stroke-width="0.05" textLength="98.2" lengthAdjust="spacing">12:00 PM</text><text x="1511.5" y="84" font-size="23.6" fill="#8a90a3" stroke="#8a90a3" stroke-width="0.3">0.75</text><text x="1511.5" y="158" font-size="23.6" fill="#8a90a3" stroke="#8a90a3" stroke-width="0.3">0.70</text><text x="1512" y="304" font-size="23.6" fill="#8a90a3" stroke="#8a90a3" stroke-width="0.3">0.60</text><text x="1512" y="376" font-size="23.6" fill="#8a90a3" stroke="#8a90a3" stroke-width="0.3">0.55</text><text x="1512" y="448" font-size="23.6" fill="#8a90a3" stroke="#8a90a3" stroke-width="0.3">0.50</text><text x="1512" y="522" font-size="23.6" fill="#8a90a3" stroke="#8a90a3" stroke-width="0.3">0.45</text><text x="1512" y="594" font-size="23.6" fill="#8a90a3" stroke="#8a90a3" stroke-width="0.3">0.40</text><text x="1524" y="690" font-size="24.6" fill="#8a90a3" stroke="#8a90a3" stroke-width="0.1" font-weight="bold" textLength="50.6" lengthAdjust="spacing">USD</text>
<rect x="1500" y="180.5" width="72" height="49.3" rx="5.5" fill="#5dc68a"/>
<text x="1512" y="214" font-size="22.5" fill="#ffffff" stroke="#ffffff" stroke-width="0.3" textLength="46.3" lengthAdjust="spacing">0.66</text>
<path d="M1229 607.3 A21.5 21.5 0 1 1 1235.3 592.1 C1235.3 596.8 1233 599.2 1230 599.2 C1226.5 599.2 1225.8 595.5 1225.8 591 C1225.8 586.5 1225 585.3 1224 585.3 C1222.5 585.3 1221 587.5 1219 590.5 L1214.5 597.5 C1213.5 599 1212.3 598.8 1212.3 597 L1211.8 587 C1211.8 584.5 1211 583.5 1210.3 583.5 C1209.5 583.5 1208.8 584 1208 585 L1197.4 602.5" fill="none" stroke="#d0d4df" stroke-width="4.6" stroke-linecap="round" stroke-linejoin="round"/>
<g fill="#d0d4df" stroke="#d0d4df" stroke-width="1.1" stroke-linejoin="round" font-size="30"><text x="1262.5" y="603.4" text-anchor="middle">C</text><text x="1281.4" y="603.4" text-anchor="middle">o</text><text x="1294.38" y="603.4" text-anchor="middle">i</text><text x="1307.15" y="603.4" text-anchor="middle">n</text><text x="1328.2" y="603.4" text-anchor="middle">M</text><text x="1349.25" y="603.4" text-anchor="middle">a</text><text x="1365.45" y="603.4" text-anchor="middle">r</text><text x="1378.95" y="603.4" text-anchor="middle">k</text><text x="1392.9" y="603.4" text-anchor="middle">e</text><text x="1407.3" y="603.4" text-anchor="middle">t</text><text x="1424.15" y="603.4" text-anchor="middle">C</text><text x="1443.1" y="603.4" text-anchor="middle">a</text><text x="1462.3" y="603.4" text-anchor="middle">p</text></g>
</svg>
</body></html>
